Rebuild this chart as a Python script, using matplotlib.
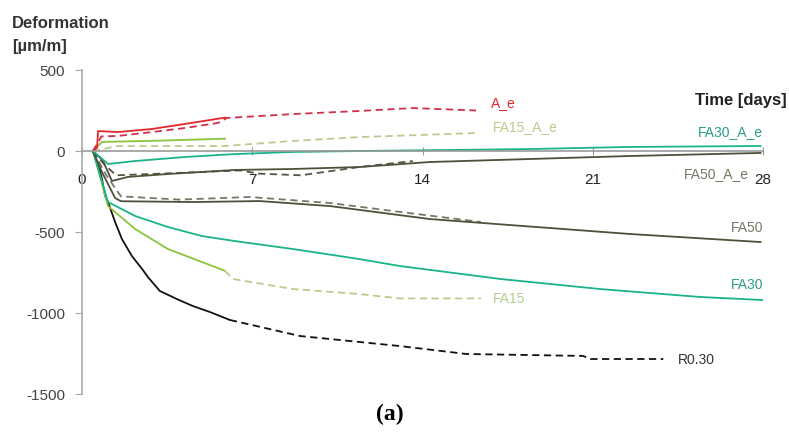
import matplotlib
matplotlib.use("Agg")
import matplotlib.pyplot as plt

# ---- data (days, deformation in µm/m) ----
ae_solid_days = [0.45, 0.62, 0.66, 1.48, 2.88, 4.23, 5.88]
ae_solid_vals = [0, 20, 123, 117, 136, 167, 206]
ae_dash_days = [0.45, 0.8, 1.48, 2.88, 4.23, 5.59, 5.96, 8.67, 11.4, 13.6, 16.2]
ae_dash_vals = [0, 90, 93, 117, 142, 173, 204, 228, 247, 265, 250]

fa15ae_solid_days = [0.45, 0.82, 3.2, 5.88]
fa15ae_solid_vals = [0, 56, 64, 76]
fa15ae_dash_days = [0.45, 1.48, 5.88, 8.67, 11.4, 16.2]
fa15ae_dash_vals = [0, 31, 31, 62, 86, 111]

fa30ae_days = [0.45, 1.07, 2.18, 4.23, 6.29, 8.67, 11.4, 18.4, 22.5, 27.9]
fa30ae_vals = [0, -80, -62, -37, -19, -6, 0, 12, 25, 31]

fa50ae_solid_days = [0.45, 0.86, 1.23, 1.89, 3.53, 6.29, 8.67, 11.4, 14.3, 22.5, 27.9]
fa50ae_solid_vals = [0, -60, -185, -160, -142, -117, -111, -99, -68, -31, -12]
fa50ae_dash_days = [0.45, 0.9, 1.4, 3.2, 6.5, 7.3, 9.0, 11.4, 13.6]
fa50ae_dash_vals = [0, -80, -150, -140, -120, -140, -150, -99, -62]

fa50_solid_days = [0.45, 0.82, 1.36, 1.6, 4.56, 7.3, 10.2, 14.3, 22.5, 27.9]
fa50_solid_vals = [0, -130, -290, -310, -315, -309, -340, -420, -512, -562]
fa50_dash_days = [0.45, 1.0, 1.6, 4.0, 6.9, 10.2, 13.07, 16.4]
fa50_dash_vals = [0, -150, -280, -300, -284, -321, -376, -438]

fa30_days = [0.45, 1.07, 2.18, 3.53, 4.93, 6.29, 8.67, 11.4, 13.07, 17.2, 21.3, 25.4, 28.0]
fa30_vals = [0, -315, -401, -469, -525, -556, -605, -667, -710, -790, -852, -901, -920]

fa15_solid_days = [0.45, 1.07, 2.18, 3.53, 4.93, 5.88]
fa15_solid_vals = [0, -340, -481, -605, -685, -740]
fa15_dash_days = [5.88, 6.2, 8.67, 11.4, 13.07, 16.4]
fa15_dash_vals = [-740, -790, -852, -883, -910, -910]

r030_solid_days = [0.45, 0.7, 0.82, 0.95, 1.07, 1.36, 1.64, 2.05, 2.47, 2.71, 3.2, 3.9, 4.56, 5.26, 6.08]
r030_solid_vals = [0, -100, -173, -278, -315, -438, -543, -648, -728, -778, -864, -914, -957, -994, -1043]
r030_dash_days = [6.08, 8.96, 13.07, 15.8, 20.6, 20.9, 23.9]
r030_dash_vals = [-1043, -1142, -1204, -1253, -1265, -1284, -1284]

x_ticks = [0, 7, 14, 21, 28]
y_ticks = [500, 0, -500, -1000, -1500]

C_RED = "#e3262b"
C_FA15 = "#8cc43c"
C_FA15_LBL = "#b8cc8e"
C_FA30 = "#1bb38a"
C_FA30_LBL = "#2a9e86"
C_FA50 = "#4f4f3a"
C_FA50_LBL = "#777766"
C_BLACK = "#111111"

plt.rcParams['font.family'] = ['Liberation Sans', 'DejaVu Sans']

fig = plt.figure(figsize=(7.89, 4.39), dpi=100)
ax = fig.add_axes([82/789, 1-395/439, 681/789, 324/439])
ax.set_xlim(0, 28)
ax.set_ylim(-1500, 500)

dash = (0, (4, 2.5))
lw = 1.3

ax.plot(r030_solid_days, r030_solid_vals, color=C_BLACK, lw=lw)
ax.plot(r030_dash_days, r030_dash_vals, color=C_BLACK, lw=lw, linestyle=dash)

ax.plot(fa15_solid_days, fa15_solid_vals, color=C_FA15, lw=lw)
ax.plot(fa15_dash_days, fa15_dash_vals, color=C_FA15_LBL, lw=lw, linestyle=dash)

ax.plot(fa30_days, fa30_vals, color=C_FA30, lw=lw)

ax.plot(fa50_dash_days, fa50_dash_vals, color="#777766", lw=lw, linestyle=dash)
ax.plot(fa50_solid_days, fa50_solid_vals, color=C_FA50, lw=lw)

ax.plot(fa50ae_dash_days, fa50ae_dash_vals, color="#555544", lw=lw, linestyle=dash)
ax.plot(fa50ae_solid_days, fa50ae_solid_vals, color=C_FA50, lw=lw)

ax.plot(fa30ae_days, fa30ae_vals, color=C_FA30, lw=lw)

ax.plot(fa15ae_dash_days, fa15ae_dash_vals, color=C_FA15_LBL, lw=lw, linestyle=dash)
ax.plot(fa15ae_solid_days, fa15ae_solid_vals, color=C_FA15, lw=lw)

ax.plot(ae_dash_days, ae_dash_vals, color="#d0304a", lw=lw, linestyle=dash)
ax.plot(ae_solid_days, ae_solid_vals, color=C_RED, lw=lw)

# axes styling
for s in ['top', 'right']:
    ax.spines[s].set_visible(False)
ax.spines['bottom'].set_position(('data', 0))
ax.spines['bottom'].set_color('#999999')
ax.spines['left'].set_color('#aaaaaa')
ax.spines['left'].set_linewidth(1.2)
ax.spines['bottom'].set_linewidth(1.2)
ax.set_xticks(x_ticks)
ax.set_xticklabels([str(t) for t in x_ticks])
ax.set_yticks(y_ticks)
ax.set_yticklabels([str(t) for t in y_ticks])
ax.tick_params(axis='x', direction='inout', length=6, pad=12, labelsize=11,
               colors='#999999', labelcolor='#222222')
ax.tick_params(axis='y', direction='out', length=5, pad=7, labelsize=11,
               colors='#aaaaaa', labelcolor='#444444')

# series labels
ax.text(16.8, 300, "A_e", color=C_RED, fontsize=10, ha='left', va='center')
ax.text(16.9, 155, "FA15_A_e", color=C_FA15_LBL, fontsize=10, ha='left', va='center')
ax.text(28.0, 125, "FA30_A_e", color=C_FA30_LBL, fontsize=10, ha='right', va='center')
ax.text(27.4, -135, "FA50_A_e", color=C_FA50_LBL, fontsize=10, ha='right', va='center')
ax.text(28.0, -470, "FA50", color=C_FA50_LBL, fontsize=10, ha='right', va='center')
ax.text(28.0, -820, "FA30", color=C_FA30_LBL, fontsize=10, ha='right', va='center')
ax.text(16.9, -910, "FA15", color=C_FA15_LBL, fontsize=10, ha='left', va='center')
ax.text(24.5, -1284, "R0.30", color="#333333", fontsize=10, ha='left', va='center')

fig.text(695/789, 1-100/439, "Time [days]", fontsize=12, fontweight='bold',
         ha='left', va='center', color='#222222')
fig.text(12/789, 1-24/439, "Deformation", fontsize=12, fontweight='bold',
         ha='left', va='center', color='#333333')
fig.text(12/789, 1-47/439, "[µm/m]", fontsize=12, fontweight='bold',
         ha='left', va='center', color='#333333')
fig.text(390/789, 1-414/439, "(a)", fontsize=17, fontweight='bold',
         family=['Liberation Serif', 'DejaVu Serif'], ha='center', va='center')

fig.savefig("out.png", dpi=100)
